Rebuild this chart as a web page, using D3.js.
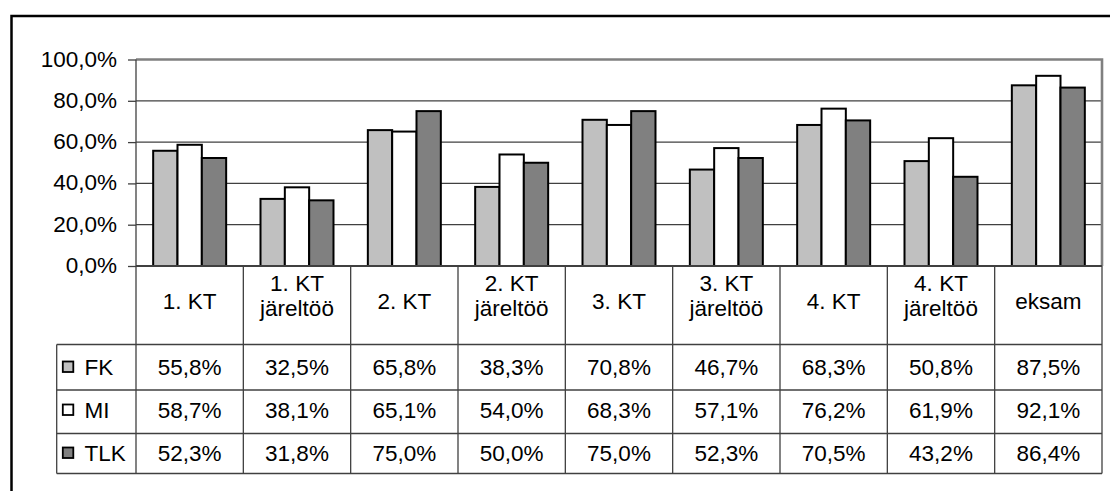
<!DOCTYPE html>
<html>
<head>
<meta charset="utf-8">
<script src="https://cdn.jsdelivr.net/npm/d3@7"></script>
<style>
  body { margin: 0; background: #fff; }
  svg text { font-family: "Liberation Sans", Arial, sans-serif; fill: #000; }
</style>
</head>
<body>
<svg id="chart"></svg>
<script>
let categories = ["1. KT", "1. KT\njäreltöö", "2. KT", "2. KT\njäreltöö", "3. KT", "3. KT\njäreltöö", "4. KT", "4. KT\njäreltöö", "eksam"];
let seriesNames = ["FK", "MI", "TLK"];
let fk = [55.8, 32.5, 65.8, 38.3, 70.8, 46.7, 68.3, 50.8, 87.5];
let mi = [58.7, 38.1, 65.1, 54.0, 68.3, 57.1, 76.2, 61.9, 92.1];
let tlk = [52.3, 31.8, 75.0, 50.0, 75.0, 52.3, 70.5, 43.2, 86.4];
let yTicks = [0, 20, 40, 60, 80, 100];

let w = 1110;
let h = 491;
let colors = {FK: "#c0c0c0", MI: "#ffffff", TLK: "#808080"};
let values = {FK: fk, MI: mi, TLK: tlk};

let plotLeft = 136, plotRight = 1102, plotTop = 59.5, plotBottom = 266;
let rowTops = [344.5, 390, 433.5];
let tableBottom = 473.5;
let tableLeft = 56.7;
let fontSize = 22.5;
let lineColor = "#404040";

let svg = d3.select("#chart").attr("width", w).attr("height", h);

let locale = d3.formatLocale({decimal: ",", thousands: " ", grouping: [3], currency: ["", ""]});
let pct = locale.format(".1f");

// outer chart border (runs off the right and bottom of the picture)
svg.append("rect")
    .attr("x", 11.5).attr("y", 16)
    .attr("width", 1200).attr("height", 600)
    .attr("fill", "none").attr("stroke", "#000").attr("stroke-width", 2.5);

let x0 = d3.scaleBand().domain(categories).range([plotLeft, plotRight]).paddingInner(0.32).paddingOuter(0.16);
let xCell = d3.scaleBand().domain(categories).range([plotLeft, plotRight]).padding(0);
let x1 = d3.scaleBand().domain(seriesNames).range([0, x0.bandwidth()]);
let y = d3.scaleLinear().domain([0, 100]).range([plotBottom, plotTop]);

// gridlines
svg.append("g")
    .selectAll("line")
    .data(yTicks.filter(t => t > 0 && t < 100))
    .enter()
    .append("line")
    .attr("x1", plotLeft).attr("x2", plotRight)
    .attr("y1", d => y(d)).attr("y2", d => y(d))
    .attr("stroke", lineColor).attr("stroke-width", 1.2);

// plot area border top and right
svg.append("path")
    .attr("d", `M${plotLeft},${y(100)}H${plotRight}V${plotBottom}`)
    .attr("fill", "none").attr("stroke", "#808080").attr("stroke-width", 2.6);

// bars
svg.append("g")
    .selectAll("g")
    .data(categories)
    .enter()
    .append("g")
    .attr("transform", d => `translate(${x0(d)},0)`)
    .selectAll("rect")
    .data((d, i) => seriesNames.map(s => ({s: s, v: values[s][i]})))
    .enter()
    .append("rect")
    .attr("x", d => x1(d.s))
    .attr("y", d => y(d.v))
    .attr("width", x1.bandwidth())
    .attr("height", d => y(0) - y(d.v))
    .attr("fill", d => colors[d.s])
    .attr("stroke", "#000")
    .attr("stroke-width", 2);

// y axis
let yAxis = svg.append("g")
    .attr("transform", `translate(${plotLeft},0)`)
    .call(d3.axisLeft(y).tickValues(yTicks).tickSize(8).tickPadding(11).tickFormat(d => pct(d) + "%"));
yAxis.select(".domain").remove();
yAxis.selectAll(".tick line").attr("stroke", lineColor).attr("stroke-width", 1.3);
yAxis.selectAll(".tick text")
    .attr("font-size", fontSize)
    .attr("font-family", "Liberation Sans, Arial, sans-serif")
    .attr("dy", "0.29em");

// table lines
let tbl = svg.append("g").attr("stroke", lineColor).attr("stroke-width", 1.3);
tbl.append("line").attr("x1", plotLeft).attr("x2", plotLeft).attr("y1", plotTop).attr("y2", tableBottom);
tbl.append("line").attr("x1", plotLeft).attr("x2", plotRight).attr("y1", plotBottom).attr("y2", plotBottom).attr("stroke-width", 1.8);
tbl.selectAll(".vline")
    .data(categories)
    .enter()
    .append("line")
    .attr("x1", d => xCell(d) + xCell.bandwidth())
    .attr("x2", d => xCell(d) + xCell.bandwidth())
    .attr("y1", plotBottom).attr("y2", tableBottom);
tbl.selectAll(".hline")
    .data(rowTops.concat([tableBottom]))
    .enter()
    .append("line")
    .attr("x1", tableLeft).attr("x2", plotRight)
    .attr("y1", d => d).attr("y2", d => d);
tbl.append("line").attr("x1", tableLeft).attr("x2", tableLeft).attr("y1", rowTops[0]).attr("y2", tableBottom);

// category header
svg.append("g")
    .selectAll("text")
    .data(categories)
    .enter()
    .append("text")
    .attr("text-anchor", "middle")
    .attr("font-size", fontSize)
    .each(function (d) {
        let parts = d.split("\n");
        let cx = xCell(d) + xCell.bandwidth() / 2;
        let base = parts.length === 1 ? [309] : [290.5, 316];
        parts.forEach((p, k) => {
            d3.select(this).append("tspan").attr("x", cx).attr("y", base[k]).text(p);
        });
    });

// data rows
seriesNames.forEach((s, r) => {
    let baseline = 375 + r * 43;
    let row = svg.append("g");
    row.append("rect")
        .attr("x", 62.8).attr("y", baseline - 13.5)
        .attr("width", 10.5).attr("height", 10.5)
        .attr("fill", colors[s]).attr("stroke", "#000").attr("stroke-width", 1.8);
    row.append("text")
        .attr("x", 84.5).attr("y", baseline)
        .attr("font-size", fontSize)
        .text(s);
    row.selectAll(".val")
        .data(values[s])
        .enter()
        .append("text")
        .attr("x", (d, i) => xCell(categories[i]) + xCell.bandwidth() / 2)
        .attr("y", baseline)
        .attr("text-anchor", "middle")
        .attr("font-size", fontSize)
        .text(d => pct(d) + "%");
});
</script>
</body>
</html>
